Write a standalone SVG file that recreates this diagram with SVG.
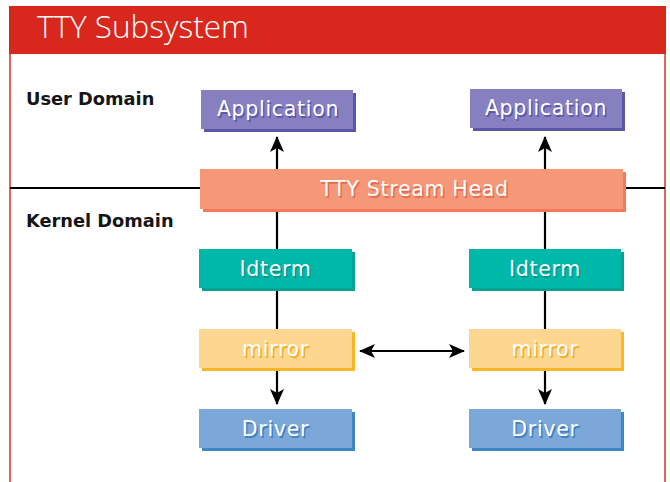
<svg xmlns="http://www.w3.org/2000/svg" width="670" height="482" viewBox="0 0 670 482">
  <style>
    .lbl { font-family: "DejaVu Sans", Verdana, sans-serif; font-size: 20.5px; letter-spacing: 0.7px; text-anchor: middle; fill: #ffffff; }
    .dom { font-family: "DejaVu Sans", Verdana, sans-serif; font-size: 17.8px; font-weight: bold; fill: #151515; }
    .wire { stroke: #000000; stroke-width: 2.2; fill: none; }
    .app .face { fill: #8780c0; } .app .drop { fill: #5b56a8; } .app .ts { fill: #5b56a8; }
    .head .face { fill: #f69778; } .head .drop { fill: #f07a5a; } .head .ts { fill: #e46c52; }
    .ld .face { fill: #00b8aa; } .ld .drop { fill: #00a493; } .ld .ts { fill: #00988a; }
    .mir .face { fill: #fdd690; } .mir .drop { fill: #f9b722; } .mir .ts { fill: #f2ac1c; }
    .drv .face { fill: #7ca7d9; } .drv .drop { fill: #3e87c7; } .drv .ts { fill: #3d7fc0; }
  </style>
  <defs>
    <marker id="tip" viewBox="0 0 16 14" refX="15" refY="7" markerWidth="16" markerHeight="14" markerUnits="userSpaceOnUse" orient="auto-start-reverse">
      <path d="M0,0 L16,7 L0,14 L4,7 Z" fill="#000000"/>
    </marker>
  </defs>

  <!-- page frame and title bar -->
  <rect x="9" y="6" width="657" height="48" fill="#d9271d"/>
  <line x1="10" y1="54" x2="10" y2="482" stroke="#e0645a" stroke-width="2"/>
  <line x1="665" y1="54" x2="665" y2="482" stroke="#e0645a" stroke-width="2"/>
  <text x="37" y="38" font-family="'Open Sans', 'DejaVu Sans', sans-serif" font-weight="300" font-size="31.5" fill="#ffffff">TTY Subsystem</text>

  <!-- domain labels -->
  <text class="dom" x="26" y="105">User Domain</text>
  <text class="dom" x="26" y="227">Kernel Domain</text>

  <!-- connectors -->
  <g id="connectors">
    <line class="wire" x1="10" y1="188" x2="665" y2="188"/>
    <line class="wire" x1="277" y1="170" x2="277" y2="137" marker-end="url(#tip)"/>
    <line class="wire" x1="545" y1="170" x2="545" y2="137" marker-end="url(#tip)"/>
    <line class="wire" x1="277" y1="208" x2="277" y2="330"/>
    <line class="wire" x1="545" y1="208" x2="545" y2="330"/>
    <line class="wire" x1="277" y1="368" x2="277" y2="404" marker-end="url(#tip)"/>
    <line class="wire" x1="545" y1="368" x2="545" y2="404" marker-end="url(#tip)"/>
    <line class="wire" x1="360" y1="351" x2="464" y2="351" marker-start="url(#tip)" marker-end="url(#tip)"/>
  </g>

  <g id="app-left" class="app">
    <rect class="drop" x="204" y="93" width="152" height="39"/>
    <rect class="face" x="201" y="90" width="152" height="39"/>
    <text class="lbl ts" x="279.5" y="117.5">Application</text>
    <text class="lbl" x="278" y="116">Application</text>
  </g>
  <g id="app-right" class="app">
    <rect class="drop" x="473" y="92" width="152" height="39"/>
    <rect class="face" x="470" y="89" width="152" height="39"/>
    <text class="lbl ts" x="547.5" y="116.5">Application</text>
    <text class="lbl" x="546" y="115">Application</text>
  </g>

  <g id="stream-head" class="head">
    <rect class="drop" x="203" y="172" width="423" height="40"/>
    <rect class="face" x="200" y="169" width="423" height="40"/>
    <text class="lbl ts" x="416" y="197.5">TTY Stream Head</text>
    <text class="lbl" x="414.5" y="196">TTY Stream Head</text>
  </g>

  <g id="ldterm-left" class="ld">
    <rect class="drop" x="202" y="252" width="153" height="39"/>
    <rect class="face" x="199" y="249" width="153" height="39"/>
    <text class="lbl ts" x="277" y="277.5">Idterm</text>
    <text class="lbl" x="275.5" y="276">Idterm</text>
  </g>
  <g id="ldterm-right" class="ld">
    <rect class="drop" x="472" y="252" width="152" height="39"/>
    <rect class="face" x="469" y="249" width="152" height="39"/>
    <text class="lbl ts" x="546.5" y="277.5">Idterm</text>
    <text class="lbl" x="545" y="276">Idterm</text>
  </g>

  <g id="mirror-left" class="mir">
    <rect class="drop" x="202" y="332" width="153" height="39"/>
    <rect class="face" x="199" y="329" width="153" height="39"/>
    <text class="lbl ts" x="277" y="357.5">mirror</text>
    <text class="lbl" x="275.5" y="356">mirror</text>
  </g>
  <g id="mirror-right" class="mir">
    <rect class="drop" x="472" y="332" width="152" height="39"/>
    <rect class="face" x="469" y="329" width="152" height="39"/>
    <text class="lbl ts" x="546.5" y="357.5">mirror</text>
    <text class="lbl" x="545" y="356">mirror</text>
  </g>

  <g id="driver-left" class="drv">
    <rect class="drop" x="202" y="412" width="153" height="39"/>
    <rect class="face" x="199" y="409" width="153" height="39"/>
    <text class="lbl ts" x="277" y="437.5">Driver</text>
    <text class="lbl" x="275.5" y="436">Driver</text>
  </g>
  <g id="driver-right" class="drv">
    <rect class="drop" x="472" y="412" width="152" height="39"/>
    <rect class="face" x="469" y="409" width="152" height="39"/>
    <text class="lbl ts" x="546.5" y="437.5">Driver</text>
    <text class="lbl" x="545" y="436">Driver</text>
  </g>
</svg>
